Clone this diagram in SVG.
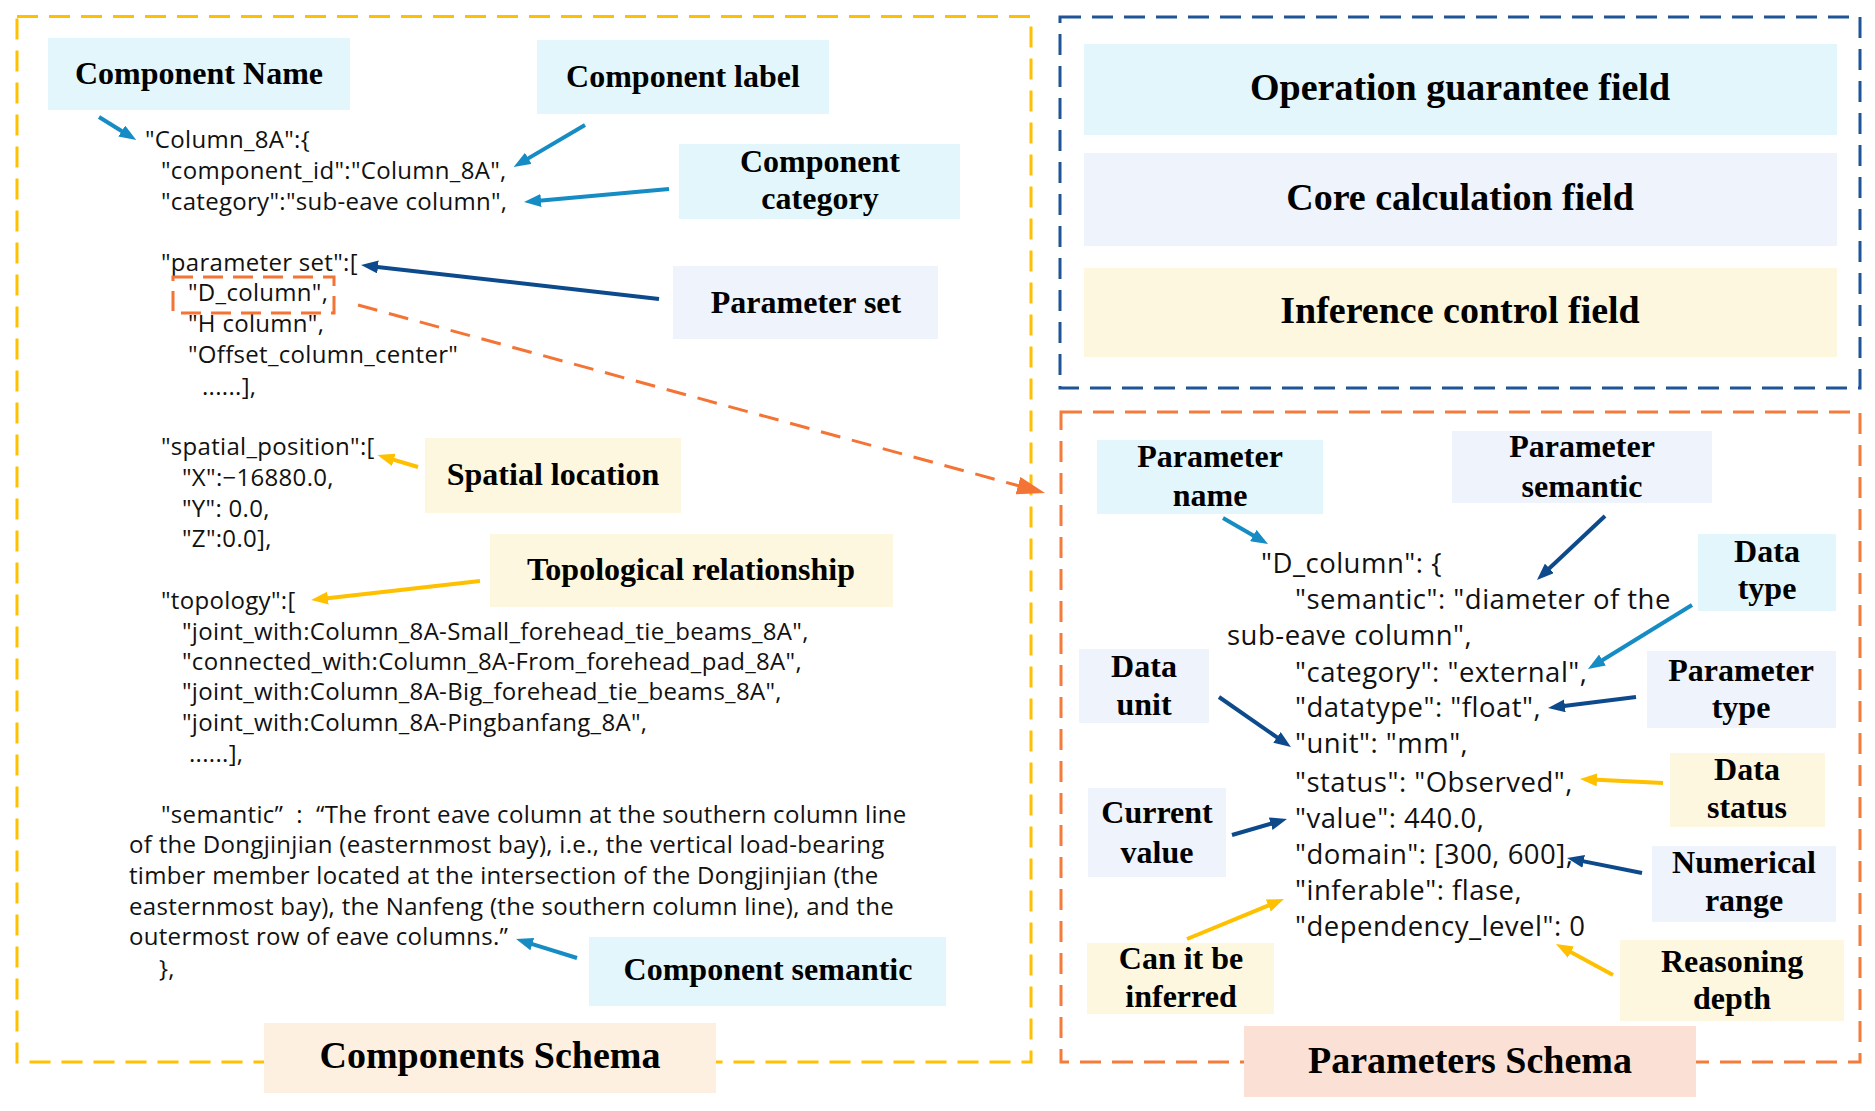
<svg xmlns="http://www.w3.org/2000/svg" width="1875" height="1111" viewBox="0 0 1875 1111">
<style>
.lbl{font-family:"Liberation Serif","Times New Roman",serif;font-weight:bold;font-size:32px;fill:#000;text-anchor:middle}
.big{font-family:"Liberation Serif","Times New Roman",serif;font-weight:bold;font-size:38px;fill:#000;text-anchor:middle}
.codeL{font-family:"Open Sans","Noto Sans",sans-serif;font-size:24px;letter-spacing:0.3px;fill:#111}
.codeR{font-family:"Open Sans","Noto Sans",sans-serif;font-size:27.5px;letter-spacing:0.5px;fill:#111}
.cyan{fill:#E3F6FC}
.lav{fill:#EEF3FC}
.cream{fill:#FEF7DF}
.peach{fill:#FDF0E0}
.salmon{fill:#FBE1D5}
.frame{fill:none;stroke-width:3;stroke-dasharray:21 11}
.ab{fill:none;stroke:#168CC4;stroke-width:4;marker-end:url(#hb)}
.an{fill:none;stroke:#0D4A8C;stroke-width:4;marker-end:url(#hn)}
.ay{fill:none;stroke:#FFC000;stroke-width:4;marker-end:url(#hy)}
.ao{fill:none;stroke:#F47435;stroke-width:3;stroke-dasharray:20 12;marker-end:url(#ho)}
</style>
<defs>
<marker id="hb" markerUnits="userSpaceOnUse" markerWidth="17" markerHeight="13" refX="5" refY="6.5" orient="auto"><path d="M0,0 L17,6.5 L0,13 z" fill="#168CC4"/></marker>
<marker id="hn" markerUnits="userSpaceOnUse" markerWidth="17" markerHeight="13" refX="5" refY="6.5" orient="auto"><path d="M0,0 L17,6.5 L0,13 z" fill="#0D4A8C"/></marker>
<marker id="hy" markerUnits="userSpaceOnUse" markerWidth="17" markerHeight="13" refX="5" refY="6.5" orient="auto"><path d="M0,0 L17,6.5 L0,13 z" fill="#FFC000"/></marker>
<marker id="ho" markerUnits="userSpaceOnUse" markerWidth="28" markerHeight="18" refX="8" refY="9" orient="auto"><path d="M0,0 L28,9 L0,18 z" fill="#F47435"/></marker>
</defs>
<rect width="1875" height="1111" fill="#fff"/>

<g id="frames">
<rect id="components-frame" class="frame" x="17" y="16.5" width="1014" height="1045.5" stroke="#FFC000"/>
<rect id="fields-frame" class="frame" x="1060" y="17" width="800" height="371" stroke="#1F5597"/>
<rect id="parameters-frame" class="frame" x="1061" y="412" width="799" height="650" stroke="#F47B3A"/>
</g>

<g id="components-code" class="codeL">
<text x="145" y="148">"Column_8A":{</text>
<text x="161" y="179">"component_id":"Column_8A",</text>
<text x="161" y="210">"category":"sub-eave column",</text>
<text x="161" y="271">"parameter set":[</text>
<text x="188" y="301">"D_column",</text>
<text x="188" y="332">"H column",</text>
<text x="188" y="363">"Offset_column_center"</text>
<text x="202" y="395">......],</text>
<text x="161" y="455">"spatial_position":[</text>
<text x="182" y="486">"X":−16880.0,</text>
<text x="182" y="517">"Y": 0.0,</text>
<text x="182" y="547">"Z":0.0],</text>
<text x="161" y="609">"topology":[</text>
<text x="182" y="640">"joint_with:Column_8A-Small_forehead_tie_beams_8A",</text>
<text x="182" y="670">"connected_with:Column_8A-From_forehead_pad_8A",</text>
<text x="182" y="700">"joint_with:Column_8A-Big_forehead_tie_beams_8A",</text>
<text x="182" y="731">"joint_with:Column_8A-Pingbanfang_8A",</text>
<text x="189" y="762">......],</text>
<text x="161" y="823">"semantic”&#160;&#160;:&#160;&#160;“The front eave column at the southern column line</text>
<text x="129" y="853">of the Dongjinjian (easternmost bay), i.e., the vertical load-bearing</text>
<text x="129" y="884">timber member located at the intersection of the Dongjinjian (the</text>
<text x="129" y="915">easternmost bay), the Nanfeng (the southern column line), and the</text>
<text x="129" y="945">outermost row of eave columns.”</text>
<text x="159" y="977">},</text>
</g>

<g id="parameters-code" class="codeR">
<text x="1261" y="573">"D_column": {</text>
<text x="1295" y="609">"semantic": "diameter of the</text>
<text x="1227" y="645">sub-eave column",</text>
<text x="1295" y="682">"category": "external",</text>
<text x="1295" y="717">"datatype": "float",</text>
<text x="1295" y="753">"unit": "mm",</text>
<text x="1295" y="792">"status": "Observed",</text>
<text x="1295" y="828">"value": 440.0,</text>
<text x="1295" y="864">"domain": [300, 600],</text>
<text x="1295" y="900">"inferable": flase,</text>
<text x="1295" y="936">"dependency_level": 0</text>
</g>

<g id="d-column-highlight"><rect x="173" y="277" width="161" height="36" fill="none" stroke="#F47435" stroke-width="3" stroke-dasharray="20 10"/></g>

<g id="component-name"><rect class="cyan" x="48" y="38" width="302" height="72"/><text class="lbl" x="199" y="84">Component Name</text></g>
<g id="component-label"><rect class="cyan" x="537" y="40" width="292" height="74"/><text class="lbl" x="683" y="87">Component label</text></g>
<g id="component-category"><rect class="cyan" x="679" y="144" width="281" height="75"/><text class="lbl" x="820" y="172">Component</text><text class="lbl" x="820" y="209">category</text></g>
<g id="parameter-set"><rect class="lav" x="673" y="266" width="265" height="73"/><text class="lbl" x="806" y="313">Parameter set</text></g>
<g id="spatial-location"><rect class="cream" x="425" y="438" width="256" height="75"/><text class="lbl" x="553" y="485">Spatial location</text></g>
<g id="topological-relationship"><rect class="cream" x="490" y="534" width="403" height="73"/><text class="lbl" x="691" y="580">Topological relationship</text></g>
<g id="component-semantic"><rect class="cyan" x="589" y="937" width="357" height="69"/><text class="lbl" x="768" y="980">Component semantic</text></g>
<g id="components-schema"><rect class="peach" x="264" y="1023" width="452" height="70"/><text class="big" x="490" y="1068">Components Schema</text></g>

<g id="operation-guarantee-field"><rect class="cyan" x="1084" y="44" width="753" height="91"/><text class="big" x="1460" y="100">Operation guarantee field</text></g>
<g id="core-calculation-field"><rect class="lav" x="1084" y="153" width="753" height="93"/><text class="big" x="1460" y="210">Core calculation field</text></g>
<g id="inference-control-field"><rect class="cream" x="1084" y="268" width="753" height="89"/><text class="big" x="1460" y="323">Inference control field</text></g>

<g id="parameter-name"><rect class="cyan" x="1097" y="440" width="226" height="74"/><text class="lbl" x="1210" y="467">Parameter</text><text class="lbl" x="1210" y="506">name</text></g>
<g id="parameter-semantic"><rect class="lav" x="1452" y="431" width="260" height="72"/><text class="lbl" x="1582" y="457">Parameter</text><text class="lbl" x="1582" y="497">semantic</text></g>
<g id="data-type"><rect class="cyan" x="1698" y="534" width="138" height="77"/><text class="lbl" x="1767" y="562">Data</text><text class="lbl" x="1767" y="599">type</text></g>
<g id="data-unit"><rect class="lav" x="1079" y="649" width="130" height="74"/><text class="lbl" x="1144" y="677">Data</text><text class="lbl" x="1144" y="715">unit</text></g>
<g id="parameter-type"><rect class="lav" x="1647" y="651" width="189" height="77"/><text class="lbl" x="1741" y="681">Parameter</text><text class="lbl" x="1741" y="718">type</text></g>
<g id="data-status"><rect class="cream" x="1670" y="753" width="155" height="74"/><text class="lbl" x="1747" y="780">Data</text><text class="lbl" x="1747" y="818">status</text></g>
<g id="current-value"><rect class="lav" x="1088" y="788" width="138" height="89"/><text class="lbl" x="1157" y="823">Current</text><text class="lbl" x="1157" y="863">value</text></g>
<g id="numerical-range"><rect class="lav" x="1652" y="846" width="184" height="76"/><text class="lbl" x="1744" y="873">Numerical</text><text class="lbl" x="1744" y="911">range</text></g>
<g id="can-it-be-inferred"><rect class="cream" x="1087" y="943" width="187" height="71"/><text class="lbl" x="1181" y="969">Can it be</text><text class="lbl" x="1181" y="1007">inferred</text></g>
<g id="reasoning-depth"><rect class="cream" x="1620" y="940" width="224" height="81"/><text class="lbl" x="1732" y="972">Reasoning</text><text class="lbl" x="1732" y="1009">depth</text></g>
<g id="parameters-schema"><rect class="salmon" x="1244" y="1026" width="452" height="71"/><text class="big" x="1470" y="1073">Parameters Schema</text></g>

<g id="connectors">
<path class="ab" d="M99,117 L126,133.7"/>
<path class="ab" d="M585,125 L524,160.9"/>
<path class="ab" d="M669,189 L536,200.9"/>
<path class="an" d="M659,299 L373,266.4"/>
<path class="ay" d="M418,467 L389,458.4"/>
<path class="ay" d="M480,581 L323,598.7"/>
<path class="ab" d="M577,958 L527.5,942.6"/>
<path class="ao" d="M358,305 L1025.7,487.7"/>
<path class="ab" d="M1223,518 L1257.6,538"/>
<path class="an" d="M1605,516 L1545.7,571.8"/>
<path class="ab" d="M1692,605 L1598.2,662.7"/>
<path class="an" d="M1219,697 L1281.1,740.2"/>
<path class="an" d="M1636,697 L1559.9,706.5"/>
<path class="ay" d="M1663,783 L1592,779.6"/>
<path class="an" d="M1232,835 L1275.5,822.3"/>
<path class="an" d="M1642,873 L1578.8,860.4"/>
<path class="ay" d="M1187,939 L1272.9,903.6"/>
<path class="ay" d="M1613,975 L1566.5,949.7"/>
</g>
</svg>
